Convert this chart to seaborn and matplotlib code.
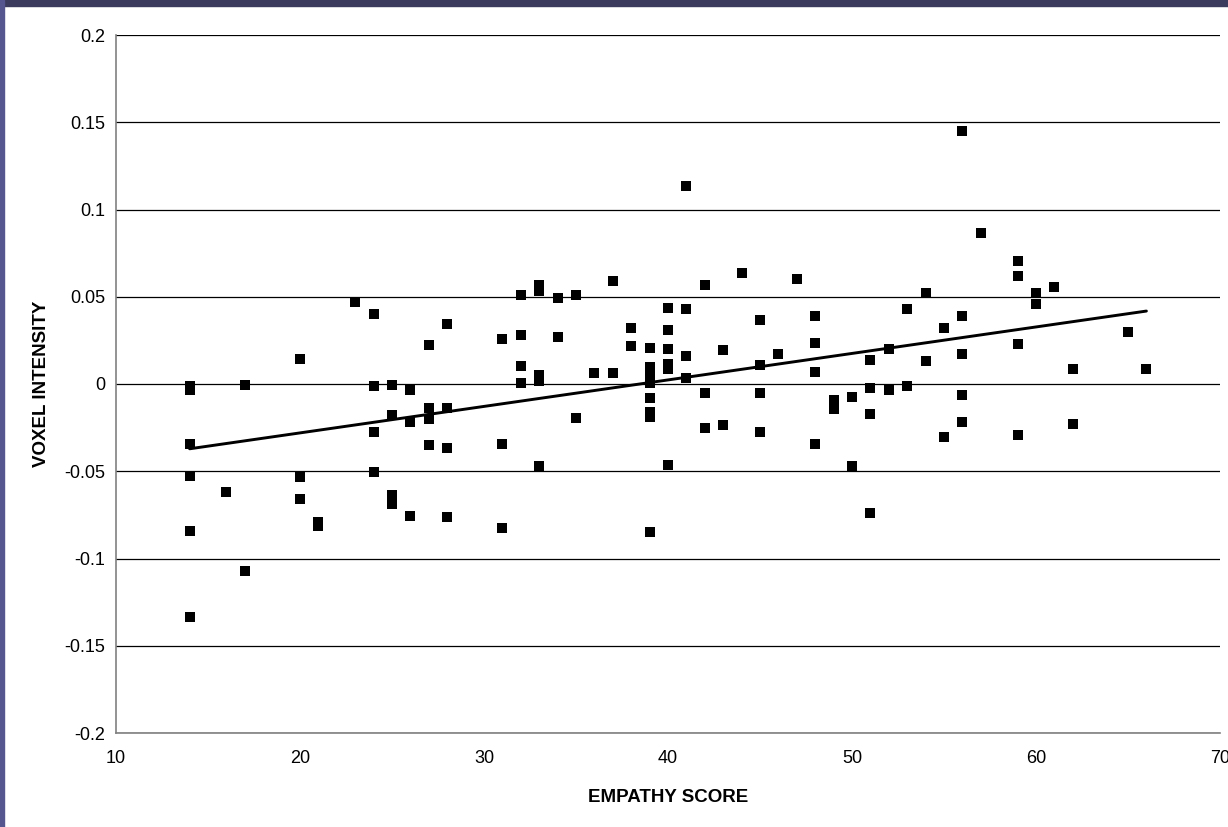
import matplotlib
matplotlib.use("Agg")
import matplotlib.pyplot as plt
import seaborn as sns
import numpy as np
import pandas as pd
from matplotlib.patches import Rectangle

# ---- data ----
empathy_score = (
    [14] * 6 + [16] + [17] * 2 + [20] * 3 + [21] * 2 + [23] + [24] * 4 + [25] * 4 +
    [26] * 3 + [27] * 4 + [28] * 4 + [31] * 3 + [32] * 4 + [33] * 5 + [34] * 2 +
    [35] * 2 + [36] + [37] * 2 + [38] * 2 + [39] * 8 + [40] * 6 + [41] * 4 +
    [42] * 3 + [43] * 2 + [44] + [45] * 4 + [46] + [47] + [48] * 4 + [49] * 2 +
    [50] * 2 + [51] * 4 + [52] * 2 + [53] * 2 + [54] * 2 + [55] * 2 + [56] * 5 +
    [57] + [59] * 4 + [60] * 2 + [61] + [62] * 2 + [65] + [66]
)
voxel_intensity = [
    -0.001, -0.0036, -0.0346, -0.0525, -0.0844, -0.1333,   # 14
    -0.062,                                                # 16
    -0.0004, -0.107,                                       # 17
    0.0145, -0.0535, -0.066,                               # 20
    -0.079, -0.0814,                                       # 21
    0.0472,                                                # 23
    0.040, -0.0011, -0.0273, -0.0502,                      # 24
    -0.0004, -0.018, -0.0638, -0.069,                      # 25
    -0.0034, -0.0218, -0.0755,                             # 26
    0.0225, -0.014, -0.020, -0.0351,                       # 27
    0.0344, -0.014, -0.0369, -0.0762,                      # 28
    0.0256, -0.0344, -0.0825,                              # 31
    0.051, 0.028, 0.0102, 0.0004,                          # 32
    0.0569, 0.0531, 0.0052, 0.0019, -0.047,                # 33
    0.0493, 0.0271,                                        # 34
    0.051, -0.0193,                                        # 35
    0.0061,                                                # 36
    0.0589, 0.0061,                                        # 37
    0.0319, 0.0218,                                        # 38
    0.0208, 0.0099, 0.0045, 0.0004, -0.008, -0.0159, -0.0187, -0.085,  # 39
    0.0437, 0.0311, 0.020, 0.0115, 0.0085, -0.0463,        # 40
    0.1135, 0.043, 0.0162, 0.0036,                         # 41
    0.0566, -0.0052, -0.025,                               # 42
    0.0193, -0.0233,                                       # 43
    0.0636,                                                # 44
    0.0367, 0.0109, -0.0052, -0.0273,                      # 45
    0.017,                                                 # 46
    0.0604,                                                # 47
    0.0391, 0.0233, 0.0067, -0.0344,                       # 48
    -0.0092, -0.0145,                                      # 49
    -0.0075, -0.047,                                       # 50
    0.0138, -0.0025, -0.017, -0.0739,                      # 51
    0.020, -0.0034,                                        # 52
    0.0431, -0.0011,                                       # 53
    0.052, 0.0131,                                         # 54
    0.0319, -0.0306,                                       # 55
    0.145, 0.039, 0.017, -0.0061, -0.022,                  # 56
    0.0865,                                                # 57
    0.0707, 0.062, 0.0231, -0.029,                         # 59
    0.052, 0.0457,                                         # 60
    0.0556,                                                # 61
    0.0084, -0.0227,                                       # 62
    0.0296,                                                # 65
    0.0084,                                                # 66
]
x_ticks = [10, 20, 30, 40, 50, 60, 70]
y_ticks = [-0.2, -0.15, -0.1, -0.05, 0, 0.05, 0.1, 0.15, 0.2]
y_tick_labels = ["-0.2", "-0.15", "-0.1", "-0.05", "0", "0.05", "0.1", "0.15", "0.2"]

df = pd.DataFrame({"EMPATHY SCORE": empathy_score, "VOXEL INTENSITY": voxel_intensity})

sns.set_style("white")
plt.rcParams["font.family"] = ["Liberation Sans", "DejaVu Sans"]

W, H = 1228, 827
fig = plt.figure(figsize=(W / 100, H / 100), dpi=100, facecolor="white")

# dark frame strips at top and left
fig.patches.append(Rectangle((0, 1 - 6 / H), 1, 6 / H, transform=fig.transFigure,
                             color="#3b3b5e", zorder=0))
fig.patches.append(Rectangle((0, 0), 4 / W, 1, transform=fig.transFigure,
                             color="#555590", zorder=0))

ax = fig.add_axes([116 / W, 1 - 733 / H, (1220 - 116) / W, (733 - 35) / H])
ax.set_facecolor("white")

sns.regplot(data=df, x="EMPATHY SCORE", y="VOXEL INTENSITY", ax=ax, ci=None,
            marker="s", color="black",
            scatter_kws={"s": 44, "linewidths": 0, "alpha": 1, "zorder": 3},
            line_kws={"lw": 2.1, "color": "black", "zorder": 4})

ax.set_xlim(10, 70)
ax.set_ylim(-0.2, 0.2)
ax.set_xticks(x_ticks)
ax.set_yticks(y_ticks)
ax.set_yticklabels(y_tick_labels)
ax.yaxis.grid(True, color="black", lw=0.9)
ax.xaxis.grid(False)
ax.set_axisbelow(True)

for s in ["top", "right"]:
    ax.spines[s].set_visible(False)
for s in ["left", "bottom"]:
    ax.spines[s].set_color("#808080")
    ax.spines[s].set_linewidth(1.2)

ax.tick_params(axis="both", which="major", direction="out", length=4, width=1,
               color="#808080", labelsize=13, labelcolor="black")
ax.tick_params(axis="y", pad=4)
ax.tick_params(axis="x", pad=8)

ax.set_xlabel("EMPATHY SCORE", fontsize=13.5, fontweight="bold", labelpad=16,
              color="black")
ax.set_ylabel("VOXEL INTENSITY", fontsize=13.5, fontweight="bold", labelpad=10,
              color="black")

fig.savefig("out.png", dpi=100, facecolor=fig.get_facecolor())
